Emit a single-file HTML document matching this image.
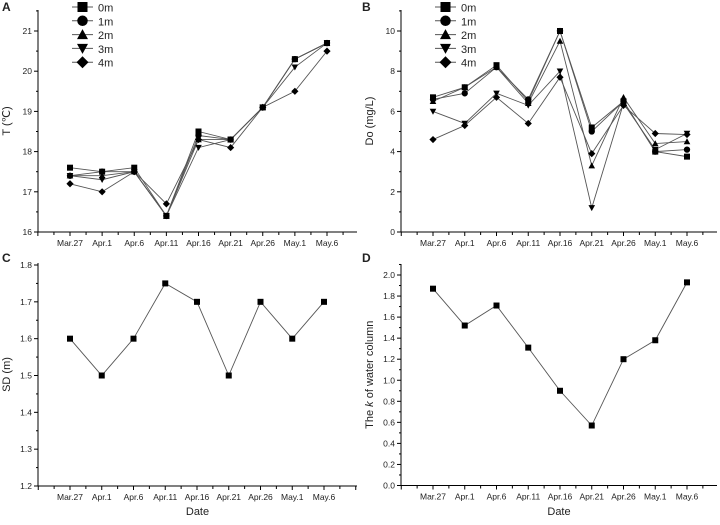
<!DOCTYPE html>
<html><head><meta charset="utf-8"><style>
body{margin:0;background:#fff}
svg text{font-family:"Liberation Sans",Arial,sans-serif;fill:#222}
</style></head><body>
<svg id="c" width="720" height="520" viewBox="0 0 720 520"></svg>
<script>
const categories=["Mar.27","Apr.1","Apr.6","Apr.11","Apr.16","Apr.21","Apr.26","May.1","May.6"];
const depths=["0m","1m","2m","3m","4m"];
const tempValues=[
[17.6,17.5,17.6,16.4,18.5,18.3,19.1,20.3,20.7],
[17.4,17.5,17.5,16.4,18.4,18.3,19.1,20.3,20.7],
[17.4,17.4,17.5,16.4,18.3,18.3,19.1,20.3,20.7],
[17.4,17.3,17.5,16.4,18.1,18.3,19.1,20.1,20.7],
[17.2,17.0,17.5,16.7,18.3,18.1,19.1,19.5,20.5]];
const doValues=[
[6.7,7.2,8.3,6.5,10.0,5.2,6.5,4.0,3.75],
[6.6,6.9,8.2,6.6,10.0,5.0,6.5,4.0,4.1],
[6.5,7.2,8.2,6.4,9.5,3.3,6.7,4.4,4.5],
[6.0,5.4,6.9,6.3,8.0,1.2,6.4,4.1,4.9],
[4.6,5.3,6.7,5.4,7.7,3.9,6.3,4.9,4.85]];
const sdValues=[1.6,1.5,1.6,1.75,1.7,1.5,1.7,1.6,1.7];
const kValues=[1.87,1.52,1.71,1.31,0.90,0.57,1.20,1.38,1.93];
const tempTicks=["16","17","18","19","20","21"];
const doTicks=["0","2","4","6","8","10"];
const sdTicks=["1.2","1.3","1.4","1.5","1.6","1.7","1.8"];
const kTicks=["0.0","0.2","0.4","0.6","0.8","1.0","1.2","1.4","1.6","1.8","2.0"];

const svg=document.getElementById('c');
const NS='http://www.w3.org/2000/svg';
function mk(tag,attrs,parent,name){const e=document.createElementNS(NS,tag);for(const k in attrs)e.setAttribute(k,attrs[k]);


(parent||svg).appendChild(e);return e;}
function marker(g,type,x,y,s,name){
 const h=s/2;
 if(type===0) return mk('rect',{x:x-h,y:y-h,width:s,height:s,fill:'#000'},g,name);
 if(type===1) return mk('circle',{cx:x,cy:y,r:h*1.05,fill:'#000'},g,name);
 if(type===2) return mk('polygon',{points:`${x},${y-h*1.1} ${x+h*1.1},${y+h*0.9} ${x-h*1.1},${y+h*0.9}`,fill:'#000'},g,name);
 if(type===3) return mk('polygon',{points:`${x},${y+h*1.1} ${x+h*1.1},${y-h*0.9} ${x-h*1.1},${y-h*0.9}`,fill:'#000'},g,name);
 return mk('polygon',{points:`${x},${y-h*1.2} ${x+h*1.2},${y} ${x},${y+h*1.2} ${x-h*1.2},${y}`,fill:'#000'},g,name);
}
function panel(o){
 const g=mk('g',{},svg,o.name);
 const ymin=+o.ticks[0], ymax=+o.ticks[o.ticks.length-1];
 const ys=v=>o.bottom-(v-ymin)/(ymax-ymin)*(o.bottom-o.ytop);
 const xs=i=>o.x0+i*(o.x1-o.x0)/(categories.length-1);
 const step=(o.x1-o.x0)/(categories.length-1);
 // axes
 mk('line',{x1:o.left,y1:o.top,x2:o.left,y2:o.bottom,stroke:'#000','stroke-width':1},g,'y-axis');
 mk('line',{x1:o.left,y1:o.bottom,x2:o.right,y2:o.bottom,stroke:'#000','stroke-width':1},g,'x-axis');
 // y ticks
 const ystep=(o.bottom-o.ytop)/(o.ticks.length-1);
 o.ticks.forEach((t,i)=>{const y=o.bottom-i*ystep;
  mk('line',{x1:o.left-4,y1:y,x2:o.left,y2:y,stroke:'#000'},g,'y-tick');
  if(i<o.ticks.length-1||true){}
  const tx=mk('text',{x:o.left-6,y:y+3,'font-size':8.5,'text-anchor':'end'},g,'y-tick-label');tx.textContent=t;
  if(i<o.ticks.length-1) mk('line',{x1:o.left-2,y1:y-ystep/2,x2:o.left,y2:y-ystep/2,stroke:'#000'},g,'y-minor-tick');
 });
 if(o.top<o.ytop-ystep/2) mk('line',{x1:o.left-2,y1:o.ytop-ystep/2,x2:o.left,y2:o.ytop-ystep/2,stroke:'#000'},g,'y-minor-tick');
 // x ticks
 for(let x=o.x0-step;x<=o.right+0.5;x+=step/2){
  const major=Math.abs(((x-o.x0)/step)-Math.round((x-o.x0)/step))<0.01;
  mk('line',{x1:x,y1:o.bottom,x2:x,y2:o.bottom+(major?4:3),stroke:'#000'},g,'x-tick');
 }
 categories.forEach((c,i)=>{const t=mk('text',{x:xs(i),y:o.bottom+14,'font-size':8.5,'text-anchor':'middle'},g,'x-tick-label');t.textContent=c;});
 // title
 const yt=mk('text',{x:0,y:0,'font-size':11,'text-anchor':'middle',transform:`translate(${o.left-28},${(o.top+o.bottom)/2}) rotate(-90)`},g,'y-axis-title');
 yt.innerHTML=o.ytitle;
 const pl=mk('text',{x:o.lx,y:o.ly,'font-size':12,'font-weight':'bold'},g,'panel-label');pl.textContent=o.label;
 if(o.xtitle){const xt=mk('text',{x:(o.left+o.right)/2,y:515,'font-size':11,'text-anchor':'middle'},g,'x-axis-title');xt.textContent='Date';}
 // series
 o.series.forEach((vals,si)=>{
  const pts=vals.map((v,i)=>xs(i)+','+ys(v)).join(' ');
  mk('polyline',{points:pts,fill:'none',stroke:'#555','stroke-width':0.9},g,'series-line-'+(o.multi?depths[si]:o.sname));
 });
 o.series.forEach((vals,si)=>{
  vals.forEach((v,i)=>marker(g,o.multi?si:0,xs(i),ys(v),6,'point-'+(o.multi?depths[si]:o.sname)+'-'+categories[i]));
 });
 if(o.multi){
  const lg=mk('g',{},g,'legend');
  depths.forEach((d,i)=>{const y=7+i*13.8, lx=o.left+34;
   const e=mk('g',{},lg,'legend-entry');
   mk('line',{x1:lx,y1:y,x2:lx+21,y2:y,stroke:'#555'},e,'legend-line');
   marker(e,i,lx+10.5,y,10,'legend-marker');
   const t=mk('text',{x:lx+26,y:y+4.5,'font-size':11},e,'legend-label');t.textContent=d;});
 }
}
panel({name:'panel-a',label:'A',lx:2,ly:11,left:38,right:357,top:10,ytop:31,bottom:232,x0:70,x1:327,ticks:tempTicks,ytitle:'T (℃)',series:tempValues,multi:true});
panel({name:'panel-b',label:'B',lx:362,ly:11,left:401,right:717,top:10,ytop:31,bottom:232,x0:433,x1:687,ticks:doTicks,ytitle:'Do (mg/L)',series:doValues,multi:true});
panel({name:'panel-c',label:'C',lx:2,ly:262,left:38,right:357,top:263,ytop:265,bottom:486,x0:70,x1:324,ticks:sdTicks,ytitle:'SD (m)',series:[sdValues],sname:'sd',xtitle:true});
panel({name:'panel-d',label:'D',lx:362,ly:262,left:401,right:717,top:264,ytop:275,bottom:485.5,x0:433,x1:687,ticks:kTicks,ytitle:'The <tspan font-style="italic">k</tspan> of water column',series:[kValues],sname:'k',xtitle:true});
</script>
</body></html>
